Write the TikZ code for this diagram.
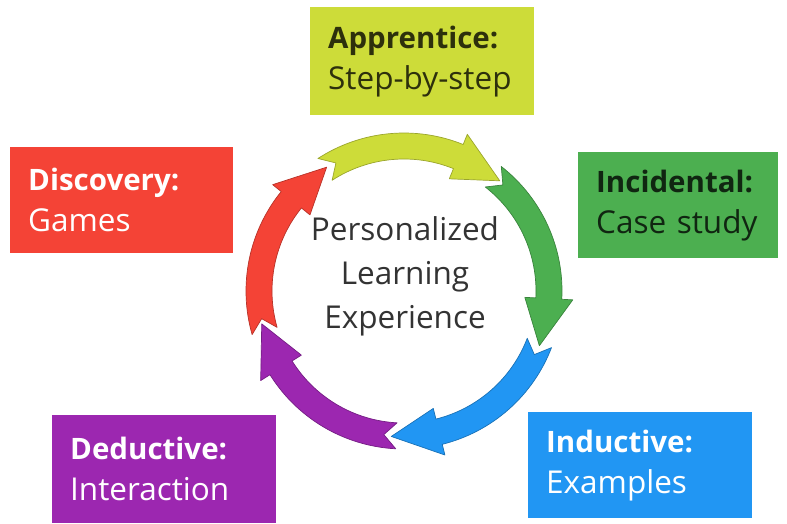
\documentclass[tikz,border=0pt]{standalone}
\usepackage{fontspec}
\setmainfont{Open Sans}
\definecolor{applime}{HTML}{CDDC39}
\definecolor{incgreen}{HTML}{4CAF50}
\definecolor{indblue}{HTML}{2196F3}
\definecolor{dedpurple}{HTML}{9C27B0}
\definecolor{disred}{HTML}{F44336}
\newcommand\boxtitle[1]{{\fontsize{29.5}{41}\selectfont\bfseries #1}}
\begin{document}
\begin{tikzpicture}[x=1pt,y=1pt,
    box/.style={rectangle, anchor=north west, inner xsep=18pt, inner ysep=0pt, align=left, font=\fontsize{31.5}{41}\selectfont},
    darktext/.style={text=black, text opacity=0.78},
    lighttext/.style={text=white}]
\useasboundingbox (0,0) rectangle (787,-523);
\node[box, fill=applime, darktext, text width=188pt, minimum height=108pt] (app) at (310,-7) {\boxtitle{Apprentice:}\\Step-by-step};
\node[box, fill=incgreen, darktext, text width=164pt, minimum height=106pt] (inc) at (578,-152) {\boxtitle{Incidental:}\\Case study};
\node[box, fill=indblue, lighttext, text width=188pt, minimum height=106pt] (ind) at (528,-412) {\boxtitle{Inductive:}\\Examples};
\node[box, fill=dedpurple, lighttext, text width=188pt, minimum height=108pt] (ded) at (52,-415) {\boxtitle{Deductive:}\\Interaction};
\node[box, fill=disred, lighttext, text width=187pt, minimum height=106pt] (dis) at (10,-147) {\boxtitle{Discovery:}\\Games};
\node[align=center, text=black!80, font=\fontsize{31.5}{44}\selectfont] (ple) at (405,-276) {Personalized\\Learning\\Experience};
\begin{scope}[shift={(404,-291)}]
\foreach \t/\col in {123/applime,52/incgreen,-21/indblue,-93/dedpurple,-164/disred}{
    \pgfmathsetmacro\h{\t-55}
    \pgfmathsetmacro\p{\t-74}
    \filldraw[fill=\col, draw=\col!75!black, line width=0.7pt, line join=round]
        (\t:158) arc[start angle=\t, end angle=\h, radius=158] -- (\h:169) -- (\p:146)
        -- (\h:121) -- (\h:132) arc[start angle=\h, end angle=\t, radius=132] -- ({\t-5}:145) -- cycle;
}
\end{scope}
\end{tikzpicture}
\end{document}
